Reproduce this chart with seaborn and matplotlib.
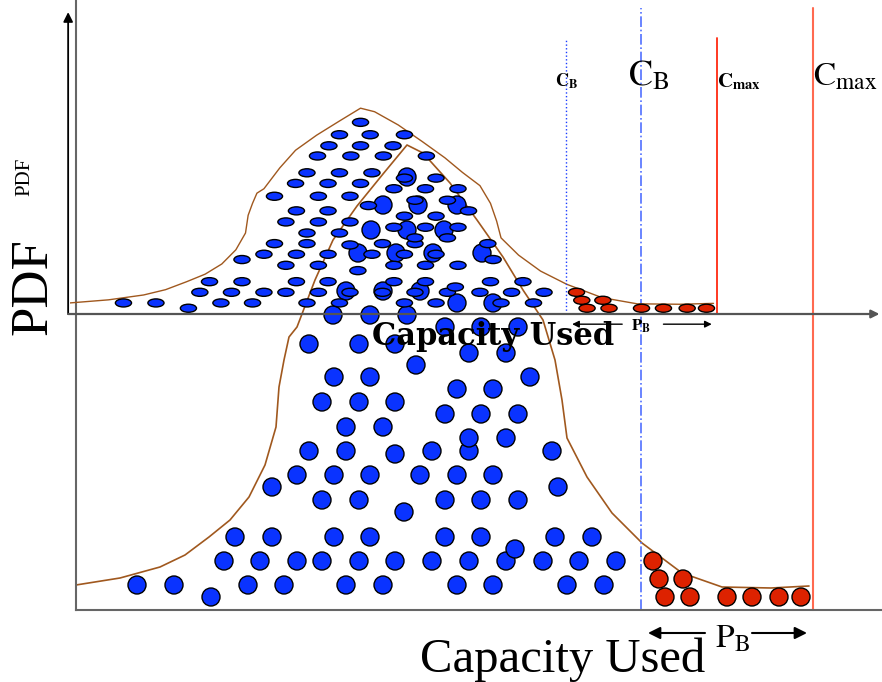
import matplotlib
matplotlib.use("Agg")
import matplotlib.pyplot as plt
import seaborn as sns
import pandas as pd
from matplotlib.path import Path
from matplotlib.transforms import Affine2D

sns.set_theme(style="white")
plt.rcParams["font.family"] = ["Liberation Serif", "DejaVu Serif"]
plt.rcParams["mathtext.fontset"] = "stix"
plt.rcParams["text.color"] = "black"

# schematic units: capacity 0..806, pdf 0..610
under_x = [61, 98, 172, 208, 270, 307, 381, 417, 491, 528,
           135,
           148, 184, 221, 246, 283, 319, 356, 393, 430, 467, 503, 540,
           439,
           159, 196, 258, 294, 369, 405, 479, 516,
           328,
           246, 283, 369, 405, 442,
           196, 482,
           221, 258, 294, 344, 381, 417,
           233, 270, 356, 393, 476,
           319,
           393, 430,
           270, 307,
           369, 405, 442,
           246, 283, 319,
           381, 417,
           258, 294, 454,
           340,
           393, 430,
           233, 283, 319,
           369, 405, 442,
           257, 294, 331,
           381, 417,
           270, 307, 344,
           282, 320, 357, 406,
           295, 331, 368,
           307, 342, 381,
           331]
under_y = [25] * 10 + [13] + [49] * 12 + [61] + [73] * 8 + [98] + [110] * 5 + \
          [123] * 2 + [135] * 6 + [159] * 5 + [156] + [172] * 2 + [183] * 2 + \
          [196] * 3 + [208] * 3 + [221] * 2 + [233] * 3 + [245] + [257] * 2 + \
          [266] * 3 + [283] * 3 + [295] * 3 + [307] * 2 + [319] * 3 + \
          [357] * 4 + [380] * 3 + [405] * 3 + [433]

over_x = [577, 583, 607, 589, 614, 651, 676, 703, 725]
over_y = [49, 31, 31, 13, 13, 13, 13, 13, 13]

curve_x = [0, 44, 84, 109, 133, 154, 173, 189, 200, 203, 208, 213, 221, 239,
           257, 281, 307, 331, 347, 374, 401, 427, 447, 467, 479, 486, 491,
           511, 536, 566, 606, 646, 695, 733]
curve_y = [25, 32, 43, 55, 73, 90, 113, 145, 183, 223, 250, 273, 283, 330,
           370, 404, 436, 465, 457, 427, 390, 353, 320, 290, 250, 210, 172,
           133, 97, 67, 37, 23, 22, 24]

c_b = 565
c_max = 737

dots = pd.DataFrame({
    "x": under_x + over_x,
    "y": under_y + over_y,
    "load": ["under"] * len(under_x) + ["over"] * len(over_x),
})
palette = {"under": "#0a33ff", "over": "#dd2200"}

ellipse = Path.unit_circle().transformed(Affine2D().scale(1.0, 0.5))


def draw_panel(ax, big):
    ax.set_xlim(0, 806)
    ax.set_ylim(0, 610)
    sns.lineplot(x=curve_x, y=curve_y, sort=False, estimator=None,
                 color="#a0581e", lw=1.2 if big else 1.0, ax=ax, zorder=2)
    sns.scatterplot(data=dots, x="x", y="y", hue="load", palette=palette,
                    marker="o" if big else ellipse, s=168 if big else 135,
                    edgecolor="black", linewidth=1.0, legend=False, ax=ax,
                    zorder=3, clip_on=False)
    if big:
        ax.plot([c_b, c_b], [0, 602], color="#5070ff", ls="-.", lw=1.2, clip_on=False)
        ax.plot([c_max, c_max], [0, 602], color="#ff6a50", lw=1.5, clip_on=False)
    else:
        ax.plot([c_b, c_b], [0, 623], color="#1a3cff", ls=":", lw=1.0, clip_on=False)
        ax.plot([c_max, c_max], [0, 623], color="#ff2a10", lw=1.3, clip_on=False)

    w = "normal" if big else "bold"
    fam = ["Liberation Serif"] if big else ["DejaVu Serif"]
    ax.text(344, -62 if big else -69, "Capacity Used", fontsize=35 if big else 22,
            weight=w, family=fam, ha="left", va="baseline")
    ax.text(639, -37, r"$\mathrm{P}_\mathrm{B}$" if big else r"$\mathbf{P}_\mathbf{B}$",
            fontsize=24 if big else 12, ha="left", va="baseline")
    ax.text(552, 525 if big else 513, r"$\mathrm{C}_\mathrm{B}$" if big else r"$\mathbf{C}_\mathbf{B}$",
            fontsize=26 if big else 13, ha="left", va="baseline")
    ax.text(737, 525 if big else 513, r"$\mathrm{C}_\mathrm{max}$" if big else r"$\mathbf{C}_\mathbf{max}$",
            fontsize=24 if big else 15, ha="left", va="baseline")
    ax.text(-43 if big else -51, 323 if big else 310, "PDF", fontsize=38 if big else 15,
            rotation=90, ha="center", va="center")

    arrow = dict(arrowstyle="-|>", color="black", lw=1.5 if big else 1.0,
                 mutation_scale=18 if big else 10, shrinkA=0, shrinkB=0)
    ax.annotate("", xy=(572, -23), xytext=(629, -23), arrowprops=arrow, annotation_clip=False)
    ax.annotate("", xy=(731, -23), xytext=(676, -23), arrowprops=arrow, annotation_clip=False)


fig = plt.figure(figsize=(8.82, 6.82), dpi=100)

ax = fig.add_axes([76 / 882, 72 / 682, 806 / 882, 610 / 682])
draw_panel(ax, True)
ax.set_xticks([])
ax.set_yticks([])
ax.set_xlabel("")
ax.set_ylabel("")
for side in ["top", "right"]:
    ax.spines[side].set_visible(False)
for side in ["left", "bottom"]:
    ax.spines[side].set_color("#666666")
    ax.spines[side].set_linewidth(1.5)

inset = fig.add_axes([69.9 / 882, 368 / 682, 707.7 / 882, 270 / 682])
inset.patch.set_alpha(0)
inset.axis("off")
draw_panel(inset, False)
inset.annotate("", xy=(-2, 682), xytext=(-2, 0), annotation_clip=False,
               arrowprops=dict(arrowstyle="-|>", color="black", lw=1.3,
                               mutation_scale=14, shrinkA=0, shrinkB=0))
inset.annotate("", xy=(922, 0), xytext=(-2, 0), annotation_clip=False,
               arrowprops=dict(arrowstyle="-|>", color="#555555", lw=1.6,
                               mutation_scale=12, shrinkA=0, shrinkB=0))

fig.savefig("out.png", dpi=100)
